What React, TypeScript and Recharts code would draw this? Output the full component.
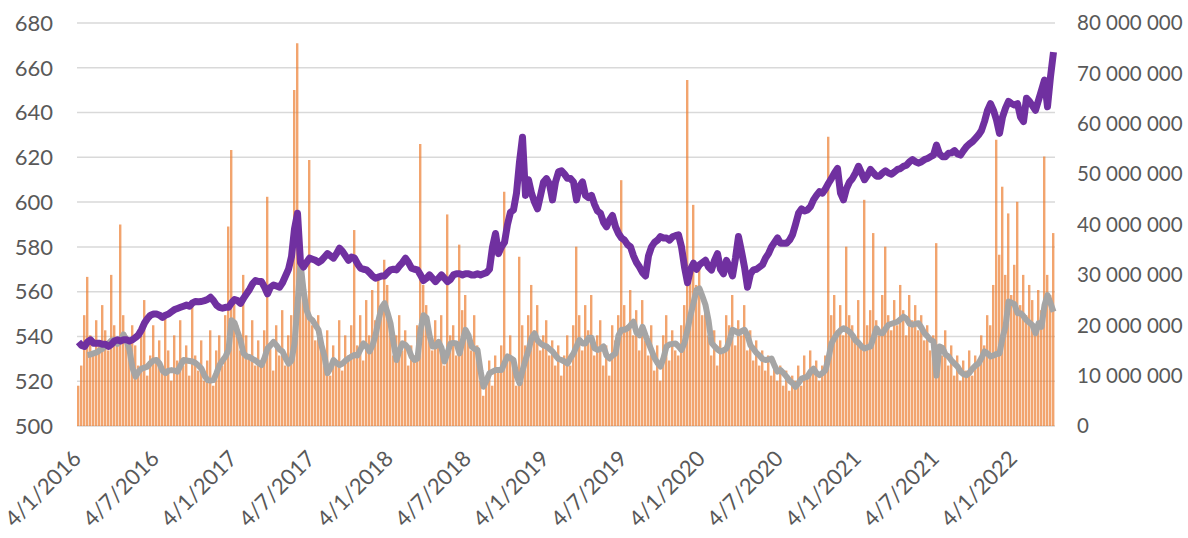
import { ComposedChart, Bar, Line, XAxis, YAxis, CartesianGrid } from "recharts";

// weekly closing price (left axis)
const price: number[] = [
  537.5, 536, 535.5, 537.5, 538.5, 537, 537, 537, 536.5, 536.5,
  535.5, 536.5, 538, 538.5, 538, 538.5, 538.5, 538, 538.5, 539.5,
  540.7, 543, 546, 548, 549.5, 550, 550, 549.5, 548.5, 549.5,
  550, 551, 552, 552.5, 553, 553.5, 554, 553.5, 555, 555.6,
  555.5, 555.6, 556, 556.5, 557.5, 556, 554, 553, 552.6, 553,
  553, 555, 556.5, 556, 554.8, 557, 559, 561, 563.5, 565,
  564.5, 564.5, 562, 559, 562, 563, 562.5, 562, 564, 567,
  570, 575.7, 588, 595, 573, 571, 573, 575, 574.5, 574,
  573, 574, 575.5, 577, 576, 575, 577, 579.4, 578, 576,
  574, 575.5, 575, 572.5, 570.5, 570, 569.7, 568.5, 567, 566,
  566.5, 567, 567, 568.5, 569.7, 570, 569.7, 571.5, 573, 575,
  573, 570.5, 570, 569.7, 567.5, 565, 566, 567.5, 566, 564.5,
  566, 567.5, 566, 564.5, 565.5, 567.5, 568, 568, 567.5, 568,
  568, 567.5, 567.5, 568, 567.5, 568, 568.5, 570, 580, 586,
  577, 580, 582, 590, 595.5, 596.5, 604, 618, 629, 603,
  610, 604, 600, 597, 603, 609, 610.5, 608, 601, 609,
  613.5, 614, 612.5, 610.6, 610.5, 609, 601, 607, 609, 603,
  602, 603, 599, 596, 595, 591, 589, 592, 594, 589,
  586, 584, 583, 581, 580, 576, 573, 571, 568.5, 567,
  576, 580, 582, 583, 584.6, 584, 584, 583, 584.5, 585,
  585.4, 580, 571, 564, 570, 572.7, 570, 572, 573, 574,
  571, 569.7, 574, 577, 570, 568, 574, 571, 567, 575,
  584.6, 578, 571, 562, 568, 569.7, 570, 571, 572, 575,
  577, 580, 582, 584, 581.6, 581.6, 581.6, 583, 585.4, 590,
  595, 597, 596, 596.5, 598, 601, 603, 604.7, 604, 606,
  608.4, 610.6, 613, 615, 604, 601, 606, 609, 610.6, 613,
  616, 613, 610, 612, 614.6, 613, 611.6, 611.6, 613, 614,
  613, 612.5, 613.5, 614.6, 615, 616, 616.5, 618, 619, 618,
  617.4, 618, 619, 619.5, 620.3, 621, 625.5, 621.5, 620.3, 620.3,
  621.8, 622, 623, 621.5, 621, 623, 624.8, 626, 627, 628.5,
  630, 632, 636, 641, 644, 641, 636.7, 630.7, 638, 642,
  645, 644, 643.4, 644, 638, 636, 646.4, 645, 643, 641,
  645.5, 650, 654.5, 642.6, 656, 667,
];

// smoothed volume, millions (right axis)
const volumeAvg: (number | null)[] = [
  null, null, null, 14.1, 14.2, 14.4, 14.6, 15, 15.3, 16,
  16.4, 17, 17.1, 16.3, 17, 18.2, 17, 15.1, 11.5, 9.8,
  10.8, 11.4, 11.6, 11.8, 12.5, 13, 13.1, 12.4, 11, 10.5,
  11, 11.1, 11, 10.8, 12, 13.1, 13, 12.9, 12.8, 12.5,
  12, 11.4, 10, 9.1, 9, 9.1, 10.5, 12.1, 13, 13.8,
  15.1, 21, 20.5, 18.7, 17, 14.4, 13.8, 13.7, 13.3, 13,
  12.5, 12.1, 13.5, 15.4, 16, 16.7, 16, 15.2, 14.8, 13.5,
  12.4, 13, 16.4, 24, 32.3, 27, 23, 21.5, 21, 20,
  19.1, 16, 13.8, 10.5, 11.5, 13.1, 12.5, 12.1, 12.4, 13,
  13.4, 13.8, 14.1, 14, 15.2, 16.4, 15.8, 14.8, 16, 18,
  21, 23.5, 24.4, 22.5, 20.4, 16.5, 13.1, 15, 16.4, 16.1,
  15.4, 13.8, 13.1, 13.4, 19, 22, 21.5, 18, 15.8, 15.8,
  16.7, 15.5, 12.8, 14.5, 16.4, 16.5, 16.4, 14.4, 16.8, 19.1,
  18, 15.8, 15.3, 15.1, 11, 7.8, 9, 10.5, 10.8, 11.1,
  11.1, 11.1, 12.5, 13.8, 13.5, 13.1, 10, 8.5, 11, 13.1,
  15, 17.5, 18.4, 17, 16.4, 16, 15.8, 15.3, 14.8, 14,
  13.3, 13.1, 12.8, 12.4, 13.5, 14.4, 15.8, 17.1, 16.4, 16.4,
  17.5, 17.5, 15.4, 15.1, 15.3, 15.8, 14, 13.4, 14, 14.4,
  18, 19.1, 19.1, 19.4, 20, 20.7, 18.5, 18, 19.7, 18,
  16.5, 15, 13.5, 12.5, 11.8, 13.5, 15.8, 16.2, 16.3, 16.4,
  15.8, 15.1, 16.5, 19.1, 22, 24.4, 27, 27.3, 25.7, 24,
  21, 16.5, 15.8, 15.2, 14.8, 15, 15.4, 17, 19.1, 18.8,
  18.4, 18.8, 19.1, 18, 16, 15.3, 14.5, 14, 13.3, 13.1,
  13.2, 13.4, 12, 10.8, 11.1, 10.5, 9.8, 9, 8.5, 7.8,
  8.5, 9.4, 9.6, 9.8, 10.8, 11.4, 10.5, 10.1, 10.5, 11.1,
  13.5, 16.4, 17.5, 18.4, 19, 19.4, 19.1, 18.7, 18, 17,
  16.5, 15.8, 15.4, 15.6, 15.8, 17.5, 19.4, 18.5, 18.4, 19.3,
  20.1, 20.3, 20.5, 20.7, 21.2, 21.7, 21.3, 20.3, 20.1, 20.3,
  20.4, 19.5, 18.4, 17.8, 17.1, 16.8, 10, 15.8, 15.5, 14.2,
  13.8, 13, 12.4, 11.8, 10.8, 10.3, 10.1, 10.6, 11.4, 12,
  12.4, 13.5, 14.8, 14.4, 13.8, 14, 14.3, 14.4, 17.5, 19.7,
  24.7, 24.5, 24.2, 22.4, 22.4, 21.8, 21, 20.5, 20, 18.4,
  20.4, 19.7, 24, 26, 24.4, 22.7,
];

// traded volume, millions (right axis)
const volume: number[] = [
  8, 12, 22, 29.6, 18, 14, 21, 16, 24, 19,
  15, 30, 20, 17, 40, 22, 18, 14, 20, 16,
  12, 18, 25, 10, 14, 20, 13, 17, 11, 22,
  15, 9, 18, 13, 21, 12, 16, 10, 24, 14,
  11, 17, 9, 13, 19, 8, 15, 18, 12, 22,
  39.6, 54.8, 25, 20, 15, 30, 18, 14, 21, 12,
  17, 13, 19, 45.5, 16, 11, 20, 14, 23, 12,
  18, 22, 66.7, 76, 35, 28, 24, 52.8, 20, 17,
  22, 15, 12, 19, 10, 16, 13, 21, 11, 18,
  14, 20, 38.9, 16, 22, 13, 25, 18, 27, 21,
  30, 24, 33, 28, 20, 14, 18, 22, 15, 19,
  12, 16, 14, 20, 56, 28, 24, 19, 15, 21,
  17, 22, 12, 42, 18, 20, 14, 36, 23, 26,
  18, 15, 22, 16, 9, 6, 10, 13, 8, 14,
  11, 16, 46.5, 13, 18, 12, 8, 33.6, 20, 16,
  22, 28, 19, 24, 15, 18, 21, 14, 17, 12,
  16, 10, 14, 18, 12, 20, 35.6, 22, 15, 24,
  19, 26, 14, 18, 21, 12, 16, 10, 20, 17,
  22, 48.8, 24, 20, 27, 18, 23, 15, 25, 17,
  14, 20, 11, 16, 9, 18, 22, 13, 19, 15,
  14, 20, 24, 68.7, 30, 43.9, 28, 32, 22, 25,
  18, 14, 19, 12, 17, 15, 22, 20, 26, 16,
  21, 18, 24, 15, 19, 13, 17, 12, 15, 11,
  14, 10, 13, 9, 12, 8, 11, 7, 10, 9,
  12, 8, 14, 10, 15, 11, 13, 9, 12, 14,
  57.4, 22, 26, 19, 24, 18, 35.6, 22, 20, 17,
  25, 16, 44.9, 20, 23, 38.3, 21, 18, 26, 35.6,
  22, 19, 25, 20, 28, 23, 18, 26, 21, 24,
  19, 22, 17, 20, 15, 18, 36.3, 16, 14, 19,
  12, 16, 10, 14, 9, 13, 11, 15, 10, 14,
  12, 18, 16, 22, 20, 28, 56.8, 34, 47.5, 30,
  42.2, 26, 32, 44.5, 24, 30, 22, 28, 25, 20,
  27, 23, 53.5, 30, 26, 38.3,
];

const tickLabels: string[] = [
  "4/1/2016", "4/7/2016", "4/1/2017", "4/7/2017", "4/1/2018", "4/7/2018", "4/1/2019",
  "4/7/2019", "4/1/2020", "4/7/2020", "4/1/2021", "4/7/2021", "4/1/2022",
];
const tickWeeks: number[] = [0, 26, 52, 78, 104, 130, 156, 182, 208, 234, 260, 286, 312];

const priceTicks: number[] = [500, 520, 540, 560, 580, 600, 620, 640, 660, 680];
const volumeTicks: number[] = [0, 10, 20, 30, 40, 50, 60, 70, 80];

const data = price.map((p, i) => ({
  week: i,
  price: p,
  avg: volumeAvg[i],
  vol: volume[i],
}));

const FONT = "Lato, 'Open Sans', sans-serif";
const TEXT = "#595959";

const fmtMillions = (v: number) =>
  String(Math.round(v * 1000000)).replace(/\B(?=(\d{3})+(?!\d))/g, " ");

const DateTick = (props: any) => {
  const { x, y, payload } = props;
  const idx = tickWeeks.indexOf(payload.value);
  const ax = x + 4;
  const ay = y + 28;
  return (
    <text
      x={ax}
      y={ay}
      textAnchor="end"
      transform={`rotate(-45 ${ax} ${ay})`}
      fill={TEXT}
      fontSize={22}
      fontFamily={FONT}
    >
      {idx >= 0 ? tickLabels[idx] : ""}
    </text>
  );
};

const App = () => (
  <div style={{ position: "absolute", left: 0, top: 0 }}>
    <ComposedChart
      width={1188}
      height={538}
      data={data}
      margin={{ top: 23, right: 0, bottom: 0, left: 0 }}
      barCategoryGap={0}
    >
      <CartesianGrid yAxisId="left" vertical={false} stroke="#D9D9D9" strokeWidth={1.5} />
      <XAxis
        dataKey="week"
        ticks={tickWeeks}
        interval={0}
        tick={<DateTick />}
        tickLine={false}
        axisLine={false}
        height={112}
        tickMargin={0}
      />
      <YAxis
        yAxisId="left"
        domain={[500, 680]}
        ticks={priceTicks}
        width={77}
        tickLine={false}
        axisLine={false}
        tickMargin={18}
        tick={{ fill: TEXT, fontSize: 22, fontFamily: FONT }}
      />
      <YAxis
        yAxisId="right"
        orientation="right"
        domain={[0, 80]}
        ticks={volumeTicks}
        width={133}
        tickLine={false}
        axisLine={false}
        tickMargin={16}
        tickFormatter={fmtMillions}
        tick={{ fill: TEXT, fontSize: 20.5, fontFamily: FONT, textAnchor: "start" }}
      />
      <Bar
        yAxisId="right"
        dataKey="vol"
        fill="#ED7D31"
        fillOpacity={0.7}
        barSize={2.4}
        isAnimationActive={false}
      />
      <Line
        yAxisId="right"
        dataKey="avg"
        stroke="#A5A5A5"
        strokeWidth={6}
        dot={false}
        strokeLinejoin="round"
        isAnimationActive={false}
      />
      <Line
        yAxisId="left"
        dataKey="price"
        stroke="#7030A0"
        strokeWidth={7}
        dot={false}
        strokeLinejoin="round"
        isAnimationActive={false}
      />
    </ComposedChart>
  </div>
);

export default App;
